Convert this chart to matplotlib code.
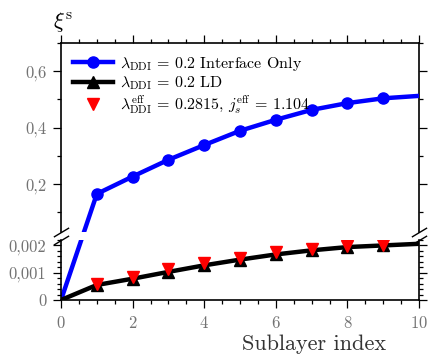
import numpy as np
import matplotlib
matplotlib.use("Agg")
import matplotlib.pyplot as plt
from matplotlib.ticker import MultipleLocator, FuncFormatter
from matplotlib.patches import ConnectionPatch

plt.rcParams["font.family"] = "serif"
plt.rcParams["font.serif"] = ["cmr10"]
plt.rcParams["mathtext.fontset"] = "cm"
plt.rcParams["axes.unicode_minus"] = False
plt.rcParams["axes.formatter.use_mathtext"] = True

# data
sublayer = [0, 1, 2, 3, 4, 5, 6, 7, 8, 9, 10]
xi_interface = [0.0, 0.1655, 0.227, 0.2863, 0.3385, 0.389, 0.428, 0.463, 0.487, 0.504, 0.5126]
xi_ld = [0.0, 0.00055, 0.00078, 0.00103, 0.00127, 0.00148, 0.00167, 0.00182, 0.00194, 0.0020, 0.00206]
eff_x = [1, 2, 3, 4, 5, 6, 7, 8, 9]
xi_eff = [0.0006, 0.00085, 0.00113, 0.00134, 0.00155, 0.00175, 0.00188, 0.00198, 0.00201]

lab_blue = r"$\lambda_{\mathrm{DDI}}\,=\,0.2$ Interface Only"
lab_black = r"$\lambda_{\mathrm{DDI}}\,=\,0.2$ LD"
lab_red = r"$\lambda_{\mathrm{DDI}}^{\mathrm{eff}}\,=\,0.2815$, $j_s^{\mathrm{eff}}\,=\,1.104$"

tickgray = "0.45"

fig = plt.figure(figsize=(4.36, 3.55), dpi=100)
ax_up = fig.add_axes([0.140, 0.346, 0.821, 0.533])
ax_lo = fig.add_axes([0.140, 0.155, 0.821, 0.169])

# upper panel: interface-only curve
ax_up.plot(sublayer[1:], xi_interface[1:], color="blue", lw=3.2, marker="o", ms=8,
           markevery=list(range(9)), label=lab_blue, zorder=3)
# handles for the legend of the lower panel curves
ax_up.plot([], [], color="black", lw=3.2, marker="^", ms=9, label=lab_black)
ax_up.plot([], [], color="red", lw=0, marker="v", ms=9, label=lab_red)

# lower panel: LD curve and effective model
ax_lo.plot(sublayer, xi_ld, color="black", lw=3.2, marker="^", ms=9,
           markevery=list(range(1, 10)), zorder=3)
ax_lo.plot(eff_x, xi_eff, color="red", lw=0, marker="v", ms=9, zorder=4)

# blue segment crossing the break
for ax in (ax_up, ax_lo):
    con = ConnectionPatch(xyA=(sublayer[0], xi_interface[0]), coordsA=ax_lo.transData,
                          xyB=(sublayer[1], xi_interface[1]), coordsB=ax_up.transData,
                          color="blue", lw=3.2)
    ax.add_artist(con)
    con.set_clip_on(True)

ax_up.set_xlim(0, 10)
ax_lo.set_xlim(0, 10)
ax_up.set_ylim(0.03, 0.7)
ax_lo.set_ylim(0, 0.0022)

comma = FuncFormatter(lambda v, p: ("%g" % v).replace(".", ","))
for ax in (ax_up, ax_lo):
    ax.xaxis.set_major_locator(MultipleLocator(2))
    ax.xaxis.set_minor_locator(MultipleLocator(0.5))
    ax.yaxis.set_major_formatter(comma)
    ax.tick_params(which="both", direction="out", width=0.9, colors="black",
                   labelcolor=tickgray, labelsize=12, left=True, right=True)
    ax.tick_params(which="major", length=5.5)
    ax.tick_params(which="minor", length=3)
    ax.tick_params(axis="y", which="both", pad=5)
    ax.tick_params(axis="x", which="both", pad=5.5)
    for s in ax.spines.values():
        s.set_linewidth(1.2)

ax_up.yaxis.set_major_locator(MultipleLocator(0.2))
ax_up.yaxis.set_minor_locator(MultipleLocator(0.1))
ax_lo.yaxis.set_major_locator(MultipleLocator(0.001))
ax_lo.yaxis.set_minor_locator(MultipleLocator(0.0002))

ax_up.spines["bottom"].set_visible(False)
ax_lo.spines["top"].set_visible(False)
ax_up.tick_params(which="both", top=True, bottom=False, labelbottom=False)
ax_lo.tick_params(which="both", top=False, bottom=True)

# break marks
kw = dict(marker=[(-1, -0.6), (1, 0.6)], markersize=11, linestyle="none",
          color="k", mec="k", mew=1, clip_on=False)
ax_up.plot([0, 1], [0, 0], transform=ax_up.transAxes, **kw)
ax_lo.plot([0, 1], [1, 1], transform=ax_lo.transAxes, **kw)

ax_up.legend(loc="upper left", bbox_to_anchor=(0.0, 1.0), frameon=False, fontsize=11.5,
             handlelength=2.5, handletextpad=0.45, labelspacing=0.1, numpoints=1,
             borderaxespad=0.35)

ax_lo.text(0.707, -0.73, "Sublayer index", transform=ax_lo.transAxes,
           ha="center", va="center", fontsize=16, color="0.2")
fig.text(53 / 436, 1 - 22 / 355, r"$\xi^{\mathrm{s}}$", fontsize=16, va="center", ha="left")

fig.savefig("out.png", dpi=100)
